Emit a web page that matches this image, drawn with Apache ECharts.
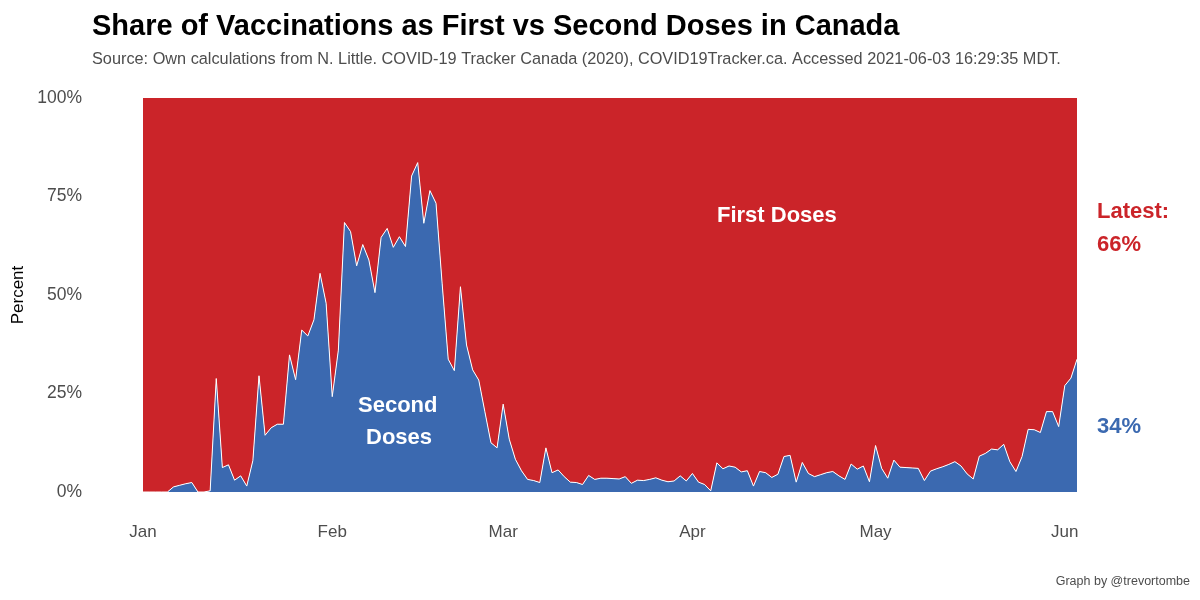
<!DOCTYPE html>
<html>
<head>
<meta charset="utf-8">
<script src="https://cdn.jsdelivr.net/npm/echarts@6/dist/echarts.min.js"></script>
<style>html,body{margin:0;padding:0;background:#fff;}#c{width:1200px;height:600px;}</style>
</head>
<body>
<div id="c"></div>
<script>
// Daily share of vaccinations that were second doses (%), 2021-01-01 .. 2021-06-03
const startDate = '2021-01-01';
const secondShare = [
 0, 0, 0, 0, 0, 1.3, 1.7, 2.1, 2.4, 0,
 0, 0.3, 28.8, 6.2, 6.9, 3.0, 4.1, 1.5, 8.0, 29.5,
 14.4, 16.3, 17.2, 17.2, 34.8, 28.5, 41.1, 39.6, 43.7, 55.5,
 47.9, 24.2, 36.0, 68.4, 66.1, 57.4, 62.8, 58.9, 50.6, 64.6,
 66.9, 62.1, 64.8, 62.3, 80.2, 83.6, 68.2, 76.5, 73.3, 53.0,
 33.7, 30.8, 52.1, 37.3, 31.0, 28.4, 20.4, 12.5, 11.2, 22.3,
 13.4, 8.3, 5.4, 3.2, 2.9, 2.4, 11.2, 4.9, 5.6, 3.9,
 2.5, 2.4, 1.9, 4.2, 3.2, 3.5, 3.5, 3.4, 3.3, 3.9,
 2.2, 3.0, 2.9, 3.2, 3.6, 3.0, 2.6, 2.8, 4.1, 2.8,
 4.7, 2.5, 1.9, 0.3, 7.4, 5.9, 6.6, 6.3, 5.1, 5.4,
 1.5, 5.2, 4.9, 3.7, 4.5, 9.0, 9.3, 2.5, 7.5, 4.7,
 3.9, 4.4, 4.9, 5.2, 4.1, 3.2, 7.1, 5.8, 6.6, 2.6,
 11.8, 6.0, 3.5, 8.1, 6.3, 6.2, 6.1, 6.0, 2.9, 5.3,
 5.9, 6.4, 7.0, 7.7, 6.6, 4.6, 3.3, 9.1, 9.8, 10.9,
 10.7, 12.1, 7.7, 5.2, 9.0, 15.9, 15.8, 15.1, 20.4, 20.4,
 16.6, 27.0, 28.9, 33.7
];
const monthNames = ['Jan','Feb','Mar','Apr','May','Jun','Jul','Aug','Sep','Oct','Nov','Dec'];
const yTicks = [0, 25, 50, 75, 100];

function pad(n){return n<10?'0'+n:''+n;}
const dates = secondShare.map((_, i) => {
  const d = new Date(startDate + 'T00:00:00Z');
  d.setUTCDate(d.getUTCDate() + i);
  return d.getUTCFullYear() + '-' + pad(d.getUTCMonth()+1) + '-' + pad(d.getUTCDate());
});
const firstShare = secondShare.map(v => +(100 - v).toFixed(1));
const lastSecond = Math.round(secondShare[secondShare.length-1]);
const lastFirst = 100 - lastSecond;

const RED = '#cb2429';
const BLUE = '#3b69b0';
const FONT = 'Liberation Sans, Arial, sans-serif';

const chart = echarts.init(document.getElementById('c'), null, {renderer:'canvas'});
chart.setOption({
  animation: false,
  backgroundColor: '#ffffff',
  title: [{
    text: 'Share of Vaccinations as First vs Second Doses in Canada',
    left: 87, top: 7,
    textStyle: {fontFamily: FONT, fontWeight: 'bold', fontSize: 29, color: '#000'}
  },{
    text: 'Source: Own calculations from N. Little. COVID-19 Tracker Canada (2020), COVID19Tracker.ca. Accessed 2021-06-03 16:29:35 MDT.',
    left: 87, top: 47,
    textStyle: {fontFamily: FONT, fontWeight: 'normal', fontSize: 16.3, color: '#4d4d4d'}
  },{
    text: 'Graph by @trevortombe',
    right: 5, top: 570,
    textStyle: {fontFamily: FONT, fontWeight: 'normal', fontSize: 12.5, color: '#4d4d4d'}
  }],
  grid: {left: 143, right: 123, top: 98, bottom: 108, containLabel: false},
  xAxis: {
    type: 'category',
    data: dates,
    boundaryGap: false,
    axisLine: {show: false},
    axisTick: {show: false},
    splitLine: {show: false},
    axisLabel: {
      interval: (idx, val) => val.slice(8) === '01',
      formatter: val => monthNames[parseInt(val.slice(5,7),10)-1],
      margin: 32,
      fontFamily: FONT, fontSize: 17, color: '#4d4d4d'
    }
  },
  yAxis: {
    type: 'value',
    min: yTicks[0], max: yTicks[yTicks.length-1], interval: 25,
    name: 'Percent',
    nameLocation: 'middle',
    nameGap: 115,
    nameTextStyle: {fontFamily: FONT, fontSize: 17, color: '#000'},
    axisLine: {show: false},
    axisTick: {show: false},
    splitLine: {show: false},
    axisLabel: {
      formatter: '{value}%',
      margin: 61,
      fontFamily: FONT, fontSize: 17.5, color: '#4d4d4d'
    }
  },
  series: [{
    name: 'Second Doses',
    type: 'line',
    stack: 'share',
    data: secondShare,
    symbol: 'none',
    lineStyle: {color: '#ffffff', width: 1},
    areaStyle: {color: BLUE, opacity: 1},
    z: 3
  },{
    name: 'First Doses',
    type: 'line',
    stack: 'share',
    data: firstShare,
    symbol: 'none',
    lineStyle: {width: 0},
    areaStyle: {color: RED, opacity: 1},
    z: 2
  }],
  graphic: [
    {type:'text', z: 100, left: 717, top: 205, style:{text:'First Doses', fill:'#fff', font:'bold 22px ' + FONT}},
    {type:'text', z: 100, left: 358, top: 395, style:{text:'Second', fill:'#fff', font:'bold 22px ' + FONT}},
    {type:'text', z: 100, left: 366, top: 427, style:{text:'Doses', fill:'#fff', font:'bold 22px ' + FONT}},
    {type:'text', z: 100, left: 1097, top: 201, style:{text:'Latest:', fill:RED, font:'bold 22px ' + FONT}},
    {type:'text', z: 100, left: 1097, top: 234, style:{text: lastFirst + '%', fill:RED, font:'bold 22px ' + FONT}},
    {type:'text', z: 100, left: 1097, top: 416, style:{text: lastSecond + '%', fill:BLUE, font:'bold 22px ' + FONT}}
  ]
});
</script>
</body>
</html>
